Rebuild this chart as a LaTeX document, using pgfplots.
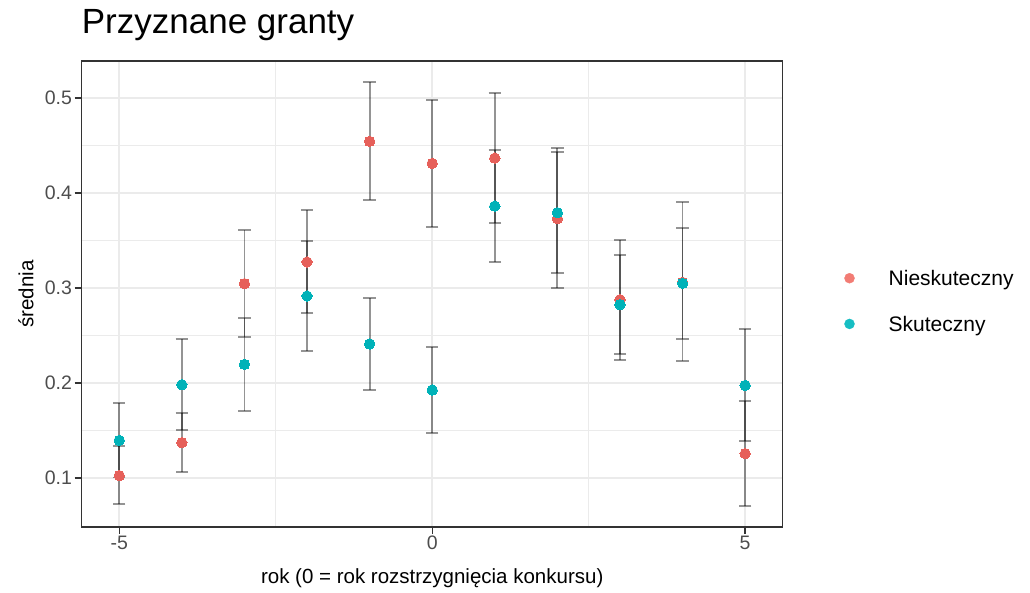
\documentclass[border=0pt]{standalone}
\usepackage{fontspec}
\setmainfont{Liberation Sans}
\usepackage{pgfplots}
\usepackage{pgfplotstable}
\pgfplotsset{compat=1.18}
\definecolor{redc}{HTML}{E6605A}
\definecolor{tealc}{HTML}{00B2B8}
\definecolor{legred}{HTML}{F27C74}
\definecolor{legteal}{HTML}{17BEC3}
\definecolor{gridc}{HTML}{EBEBEB}
\definecolor{borderc}{HTML}{333333}
\definecolor{tickc}{HTML}{4D4D4D}

\pgfplotstableread{
x y lo hi
-5 0.1025 0.0726 0.1337
-4 0.1372 0.1060 0.1684
-3 0.3046 0.2481 0.3611
-2 0.3274 0.2737 0.3821
-1 0.4544 0.3923 0.5165
0 0.4312 0.3642 0.4982
1 0.4368 0.3688 0.5049
2 0.3730 0.3004 0.4474
3 0.2877 0.2239 0.3509
4 0.3060 0.2232 0.3902
5 0.1256 0.0702 0.1810
}\nieskut

\pgfplotstableread{
x y lo hi
-5 0.1396 0.1006 0.1786
-4 0.1982 0.1509 0.2460
-3 0.2196 0.1705 0.2688
-2 0.2916 0.2333 0.3498
-1 0.2411 0.1926 0.2898
0 0.1926 0.1477 0.2379
1 0.3863 0.3277 0.4456
2 0.3793 0.3161 0.4432
3 0.2825 0.2302 0.3351
4 0.3050 0.2467 0.3632
5 0.1975 0.1389 0.2572
}\skut

\begin{document}
\begin{tikzpicture}
\begin{axis}[
  set layers,
  at={(0pt,0pt)}, anchor=south west,
  scale only axis, width=701pt, height=466pt,
  xmin=-5.6, xmax=5.6, ymin=0.0484, ymax=0.539,
  xtick={-5,0,5}, xticklabels={-5,0,5},
  ytick={0.1,0.2,0.3,0.4,0.5}, yticklabels={0.1,0.2,0.3,0.4,0.5},
  minor xtick={-2.5,2.5}, minor ytick={0.15,0.25,0.35,0.45},
  grid=both,
  major grid style={draw=gridc, line width=2pt},
  minor grid style={draw=gridc, line width=1.1pt},
  axis line style={draw=borderc, line width=1.4pt},
  tick style={draw=borderc, line width=1.4pt},
  tick align=outside, major tick length=7pt, minor tick length=0pt,
  xtick pos=bottom, ytick pos=left,
  ticklabel style={font=\fontsize{19.5}{23}\selectfont, text=tickc},
  xticklabel style={inner sep=2pt},
  yticklabel style={inner sep=2.5pt},
  xlabel={rok (0 = rok rozstrzygnięcia konkursu)},
  ylabel={średnia},
  label style={font=\fontsize{20.5}{24}\selectfont, text=black, inner sep=0pt},
  x label style={at={(axis description cs:0.5,0)}, anchor=base, yshift=-56pt},
  y label style={at={([xshift=-48.4pt]axis description cs:0,0.5)}, anchor=base, rotate=0},
  title={Przyznane granty},
  title style={at={([yshift=21.7pt]axis description cs:0,1)}, anchor=base west, inner sep=0pt, font=\fontsize{35}{40}\selectfont},
  legend style={at={([xshift=762.6pt,yshift=256.5pt]axis description cs:0,0)}, anchor=north west,
    draw=none, fill=none, inner sep=0pt, outer sep=0pt,
    nodes={anchor=base west, inner sep=0pt, font=\fontsize{21}{25}\selectfont},
    column sep=34pt, row sep=29pt},
  legend cell align=left,
]
\addlegendimage{legend image code/.code={\fill[legred] (0pt,7.5pt) circle (5pt);}}
\addlegendentry{Nieskuteczny}
\addlegendimage{legend image code/.code={\fill[legteal] (0pt,7.5pt) circle (5pt);}}
\addlegendentry{Skuteczny}

\addplot[forget plot, only marks, mark=none,
  error bars/.cd, y dir=both, y explicit,
  error bar style={draw=black, opacity=0.42, line width=1.8pt},
  error mark options={draw=black, opacity=0.42, line width=1.8pt, mark size=6.2pt, rotate=90}]
  table[x=x, y=y, y error plus expr=\thisrow{hi}-\thisrow{y}, y error minus expr=\thisrow{y}-\thisrow{lo}] {\nieskut};
\addplot[forget plot, only marks, mark=none,
  error bars/.cd, y dir=both, y explicit,
  error bar style={draw=black, opacity=0.42, line width=1.8pt},
  error mark options={draw=black, opacity=0.42, line width=1.8pt, mark size=6.2pt, rotate=90}]
  table[x=x, y=y, y error plus expr=\thisrow{hi}-\thisrow{y}, y error minus expr=\thisrow{y}-\thisrow{lo}] {\skut};

\addplot[forget plot, on layer=axis foreground, only marks, mark=*, mark size=5.2pt, draw=redc, fill=redc, mark options={draw=redc, fill=redc, line width=0pt}]
  table[x=x, y=y] {\nieskut};
\addplot[forget plot, on layer=axis foreground, only marks, mark=*, mark size=5.2pt, draw=tealc, fill=tealc, mark options={draw=tealc, fill=tealc, line width=0pt}]
  table[x=x, y=y] {\skut};
\end{axis}
\path (-81.7pt,-65pt) rectangle (948.3pt,527pt);
\end{tikzpicture}
\end{document}
